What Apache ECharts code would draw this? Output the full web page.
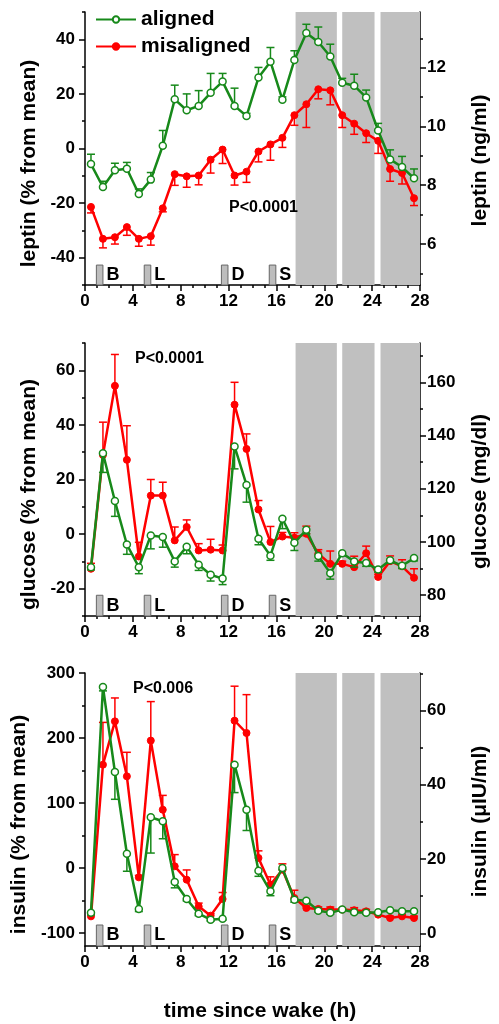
<!DOCTYPE html>
<html>
<head>
<meta charset="utf-8">
<script src="https://cdn.jsdelivr.net/npm/echarts@6/dist/echarts.min.js"></script>
<style>
  html, body { margin: 0; padding: 0; background: #fff; }
  #main { width: 499px; height: 1024px; }
</style>
</head>
<body>
<div id="main"></div>
<script>
// sampling times (h since wake)
const times = [0.5, 1.5, 2.5, 3.5, 4.5, 5.5, 6.5, 7.5, 8.5, 9.5, 10.5, 11.5, 12.5, 13.5,
  14.5, 15.5, 16.5, 17.5, 18.5, 19.5, 20.5, 21.5, 22.5, 23.5, 24.5, 25.5, 26.5, 27.5];

// leptin (% from mean)
const leptinAligned = [-5.7, -14.1, -8.0, -7.4, -16.7, -11.4, 1.0, 18.0, 14.0, 15.6, 20.4, 24.5, 15.6, 11.9,
  26.0, 31.8, 17.9, 32.4, 42.3, 39.0, 33.7, 24.1, 23.0, 18.7, 6.6, -4.0, -6.8, -10.9];
const leptinAlignedErr = [3.6, 2.1, 2.6, 2.3, 1.9, 2.6, 5.6, 5.2, 6.0, 5.6, 7.1, 3.0, 6.5, 1.0,
  3.7, 5.2, 1.0, 3.4, 3.2, 5.5, 4.5, 1.6, 4.2, 2.7, 2.6, 3.5, 3.9, 3.4];
const leptinMis = [-21.4, -33.1, -32.5, -28.8, -33.1, -32.1, -21.9, -9.4, -10.2, -9.9, -4.1, -0.4, -9.9, -8.5,
  -1.1, 1.5, 3.9, 12.2, 16.2, 21.7, 21.3, 12.2, 9.1, 5.6, 2.8, -7.5, -9.0, -18.2];
const leptinMisErr = [2.2, 3.3, 2.5, 3.0, 2.7, 3.3, 1.3, 4.1, 4.0, 3.4, 4.9, 5.1, 3.5, 3.9,
  3.8, 5.8, 3.5, 3.7, 8.5, 3.5, 5.3, 4.5, 3.9, 3.4, 4.6, 4.5, 4.0, 2.7];

// glucose (% from mean)
const glucoseAligned = [-12.1, 29.6, 12.1, -3.8, -12.1, -0.5, -1.1, -10.0, -4.6, -11.2, -14.9, -16.3, 32.1, 18.0,
  -1.7, -7.9, 5.6, -3.2, 1.6, -8.0, -14.3, -7.0, -10.0, -10.6, -13.0, -9.6, -11.6, -8.8];
const glucoseAlignedErr = [1.0, 7.0, 5.6, 3.6, 2.4, 4.9, 3.7, 2.1, 2.6, 2.1, 2.3, 2.2, 8.2, 6.3,
  2.2, 1.7, 3.6, 2.8, 1.5, 1.9, 2.2, 1.0, 2.1, 1.2, 1.0, 1.0, 1.0, 1.0];
const glucoseMis = [-12.7, 29.0, 54.3, 27.2, -8.2, 14.1, 14.1, -2.3, 2.6, -6.0, -5.7, -6.0, 47.4, 31.2,
  9.0, -2.9, -0.9, -1.3, 0.1, -7.2, -10.9, -10.9, -12.1, -7.0, -15.7, -9.9, -11.8, -16.0];
const glucoseMisErr = [2.0, 12.0, 11.5, 12.5, 5.2, 5.9, 4.9, 4.9, 2.6, 2.5, 3.8, 2.0, 8.2, 5.5,
  3.3, 5.7, 1.5, 1.8, 2.8, 1.5, 4.7, 1.0, 4.0, 2.6, 1.0, 1.9, 2.4, 3.3];

// insulin (% from mean)
const insulinAligned = [-69, 278.5, 147.7, 22, -63, 78, 72, -21.5, -47.7, -70.3, -79.5, -78, 159, 89.7,
  -4.1, -35.9, 0, -48.7, -50.3, -65.6, -69, -64, -68, -69, -68, -65, -66.7, -66.7];
const insulinAlignedErr = [3, 6, 42, 27, 4, 55, 27, 9, 3, 3, 2, 2, 43, 32,
  8.7, 6.7, 3, 4, 2, 2, 2, 2, 2, 2, 2, 2, 2, 2];
const insulinMis = [-74.4, 159, 225.6, 141, -14.4, 196, 89.7, 2.6, -18, -59, -73.3, -47.7, 226.7, 207.7,
  15.4, -25.6, -2.6, -46.2, -61.5, -63, -64, -64, -65, -66.7, -71.8, -77, -74.4, -77];
const insulinMisErr = [3, 65, 36, 37, 3, 60, 22, 18, 15, 5, 3, 10, 53, 59,
  11, 12, 9, 12, 3, 3, 4, 2, 4, 3, 2, 3, 3, 3];

// sleep episodes (grey bands) and meals
const sleepStart = [17.6, 21.5, 24.7];
const sleepEnd = [21.05, 24.2, 28];
const mealStart = [0.95, 4.95, 11.4, 15.4];
const mealEnd = [1.5, 5.5, 11.95, 15.95];
const mealLabels = ['B', 'L', 'D', 'S'];

const GREEN = '#17891a';
const RED = '#ff0000';
const FONT = 'Liberation Sans, Arial, sans-serif';

const panels = [
  {
    top: 12, leftName: 'leptin (% from mean)', rightName: 'leptin (ng/ml)',
    lMin: -50, lMax: 50, lMajor: [-40, -20, 0, 20, 40], lMinor: [-50, -30, -10, 10, 30, 50],
    rMin: 4.6, rMax: 13.9, rMajor: [6, 8, 10, 12], rMinor: [5, 7, 9, 11, 13],
    aligned: leptinAligned, alignedErr: leptinAlignedErr, mis: leptinMis, misErr: leptinMisErr,
    alignedDir: 1, mealTop: -42.7, pText: 'P<0.0001', pLeft: 224, pTop: 195
  },
  {
    top: 343, leftName: 'glucose (% from mean)', rightName: 'glucose (mg/dl)',
    lMin: -30, lMax: 70, lMajor: [-20, 0, 20, 40, 60], lMinor: [-30, -10, 10, 30, 50, 70],
    rMin: 72.1, rMax: 174.8, rMajor: [80, 100, 120, 140, 160], rMinor: [90, 110, 130, 150, 170],
    aligned: glucoseAligned, alignedErr: glucoseAlignedErr, mis: glucoseMis, misErr: glucoseMisErr,
    alignedDir: -1, mealTop: -22.4, pText: 'P<0.0001', pLeft: 130, pTop: 346
  },
  {
    top: 673, leftName: 'insulin (% from mean)', rightName: 'insulin (\u03bcIU/ml)',
    lMin: -120, lMax: 300, lMajor: [-100, 0, 100, 200, 300], lMinor: [-50, 50, 150, 250],
    rMin: -3.4, rMax: 70.1, rMajor: [0, 20, 40, 60], rMinor: [10, 30, 50, 70],
    aligned: insulinAligned, alignedErr: insulinAlignedErr, mis: insulinMis, misErr: insulinMisErr,
    alignedDir: -1, mealTop: -87.7, pText: 'P<0.006', pLeft: 128, pTop: 676
  }
];

const grids = [], xAxes = [], yAxes = [], series = [], titles = [];

function errBars(color, dir) {
  return function (params, api) {
    const x = api.value(0), y = api.value(1), e = api.value(2);
    const p0 = api.coord([x, y]);
    const p1 = api.coord([x, y + dir * e]);
    const st = { stroke: color, lineWidth: 1.5 };
    return {
      type: 'group',
      children: [
        { type: 'line', shape: { x1: p0[0], y1: p0[1], x2: p1[0], y2: p1[1] }, style: st },
        { type: 'line', shape: { x1: p1[0] - 4, y1: p1[1], x2: p1[0] + 4, y2: p1[1] }, style: st }
      ]
    };
  };
}

function yAxisDef(g, pos, min, max, ticks, major, name) {
  const left = pos === 'left';
  return {
    type: 'value', gridIndex: g, position: pos, min: min, max: max,
    name: name || '', nameLocation: 'middle', nameRotate: 90,
    nameGap: left ? 45 : 50,
    nameTextStyle: { fontSize: 21, fontWeight: 'bold', color: '#000', fontFamily: FONT,
      padding: left ? [0, 30, 0, 0] : [0, 24, 0, 0] },
    axisLine: { show: major, lineStyle: { color: '#000', width: 1.5 } },
    axisTick: { show: true, inside: false, length: major ? 6 : 3, customValues: ticks,
      lineStyle: { color: '#000', width: 1.5 } },
    axisLabel: { show: major, customValues: ticks, margin: left ? 10 : 7,
      fontSize: 17, fontWeight: 'bold', color: '#000', fontFamily: FONT },
    splitLine: { show: false }
  };
}

panels.forEach(function (p, g) {
  grids.push({ left: 85, right: 72, top: p.top, height: 273, containLabel: false });
  xAxes.push({
    type: 'value', gridIndex: g, min: 0, max: 28, interval: 4,
    name: g === 2 ? 'time since wake (h)' : '', nameLocation: 'middle', nameGap: 55,
    nameTextStyle: { fontSize: 21, fontWeight: 'bold', color: '#000', fontFamily: FONT, padding: [0, 0, 0, 15] },
    axisLine: { onZero: false, lineStyle: { color: '#000', width: 1.5 } },
    axisTick: { length: 6, lineStyle: { color: '#000', width: 1.5 } },
    minorTick: { show: true, splitNumber: 4, length: 3, lineStyle: { color: '#000', width: 1.5 } },
    axisLabel: { margin: 8, fontSize: 17, fontWeight: 'bold', color: '#000', fontFamily: FONT },
    splitLine: { show: false }
  });
  const yl = yAxes.length;
  yAxes.push(yAxisDef(g, 'left', p.lMin, p.lMax, p.lMajor, true, p.leftName));
  yAxes.push(yAxisDef(g, 'left', p.lMin, p.lMax, p.lMinor, false));
  yAxes.push(yAxisDef(g, 'right', p.rMin, p.rMax, p.rMajor, true, p.rightName));
  yAxes.push(yAxisDef(g, 'right', p.rMin, p.rMax, p.rMinor, false));

  const sleepAreas = sleepStart.map(function (s, i) {
    return [{ xAxis: s, yAxis: p.lMin }, { xAxis: sleepEnd[i], yAxis: p.lMax }];
  });
  const mealAreas = mealStart.map(function (s, i) {
    return [{ xAxis: s, yAxis: p.lMin, name: mealLabels[i] }, { xAxis: mealEnd[i], yAxis: p.mealTop }];
  });

  // background bands
  series.push({
    type: 'line', name: 'bands', xAxisIndex: g, yAxisIndex: yl, data: [], z: 1,
    markArea: { silent: true, itemStyle: { color: '#c0c0c0', opacity: 1 }, label: { show: false }, data: sleepAreas }
  });
  series.push({
    type: 'line', name: 'meals', xAxisIndex: g, yAxisIndex: yl, data: [], z: 1,
    markArea: {
      silent: true,
      itemStyle: { color: '#bdbdbd', borderColor: '#666', borderWidth: 1, opacity: 1 },
      label: { show: true, position: 'right', distance: 3, fontSize: 18, fontWeight: 'bold',
        color: '#000', fontFamily: FONT },
      data: mealAreas
    }
  });

  series.push({
    type: 'custom', name: 'misaligned err', xAxisIndex: g, yAxisIndex: yl, z: 3,
    renderItem: errBars(RED, -p.alignedDir), encode: { x: 0, y: 1 },
    data: times.map(function (t, i) { return [t, p.mis[i], p.misErr[i]]; })
  });
  series.push({
    type: 'line', name: 'misaligned', xAxisIndex: g, yAxisIndex: yl, z: 4,
    data: times.map(function (t, i) { return [t, p.mis[i]]; }),
    symbol: 'circle', symbolSize: 7, showAllSymbol: true,
    lineStyle: { color: RED, width: 2.5 }, itemStyle: { color: RED, borderColor: RED, borderWidth: 1 }
  });
  series.push({
    type: 'custom', name: 'aligned err', xAxisIndex: g, yAxisIndex: yl, z: 5,
    renderItem: errBars(GREEN, p.alignedDir), encode: { x: 0, y: 1 },
    data: times.map(function (t, i) { return [t, p.aligned[i], p.alignedErr[i]]; })
  });
  series.push({
    type: 'line', name: 'aligned', xAxisIndex: g, yAxisIndex: yl, z: 6,
    data: times.map(function (t, i) { return [t, p.aligned[i]]; }),
    symbol: 'circle', symbolSize: 7, showAllSymbol: true,
    lineStyle: { color: GREEN, width: 2.5 }, itemStyle: { color: '#fff', borderColor: GREEN, borderWidth: 1.5 }
  });

  titles.push({
    text: p.pText, left: p.pLeft, top: p.pTop,
    textStyle: { fontSize: 16, fontWeight: 'bold', color: '#000', fontFamily: FONT }
  });
});

const chart = echarts.init(document.getElementById('main'), null, { renderer: 'canvas' });
chart.setOption({
  animation: false,
  backgroundColor: '#fff',
  title: titles,
  legend: {
    data: ['aligned', 'misaligned'], orient: 'vertical', left: 90, top: 3,
    itemWidth: 40, itemHeight: 8, itemGap: 4,
    textStyle: { fontSize: 21, fontWeight: 'bold', color: '#000', fontFamily: FONT, lineHeight: 23 }
  },
  grid: grids,
  xAxis: xAxes,
  yAxis: yAxes,
  series: series
});
</script>
</body>
</html>
